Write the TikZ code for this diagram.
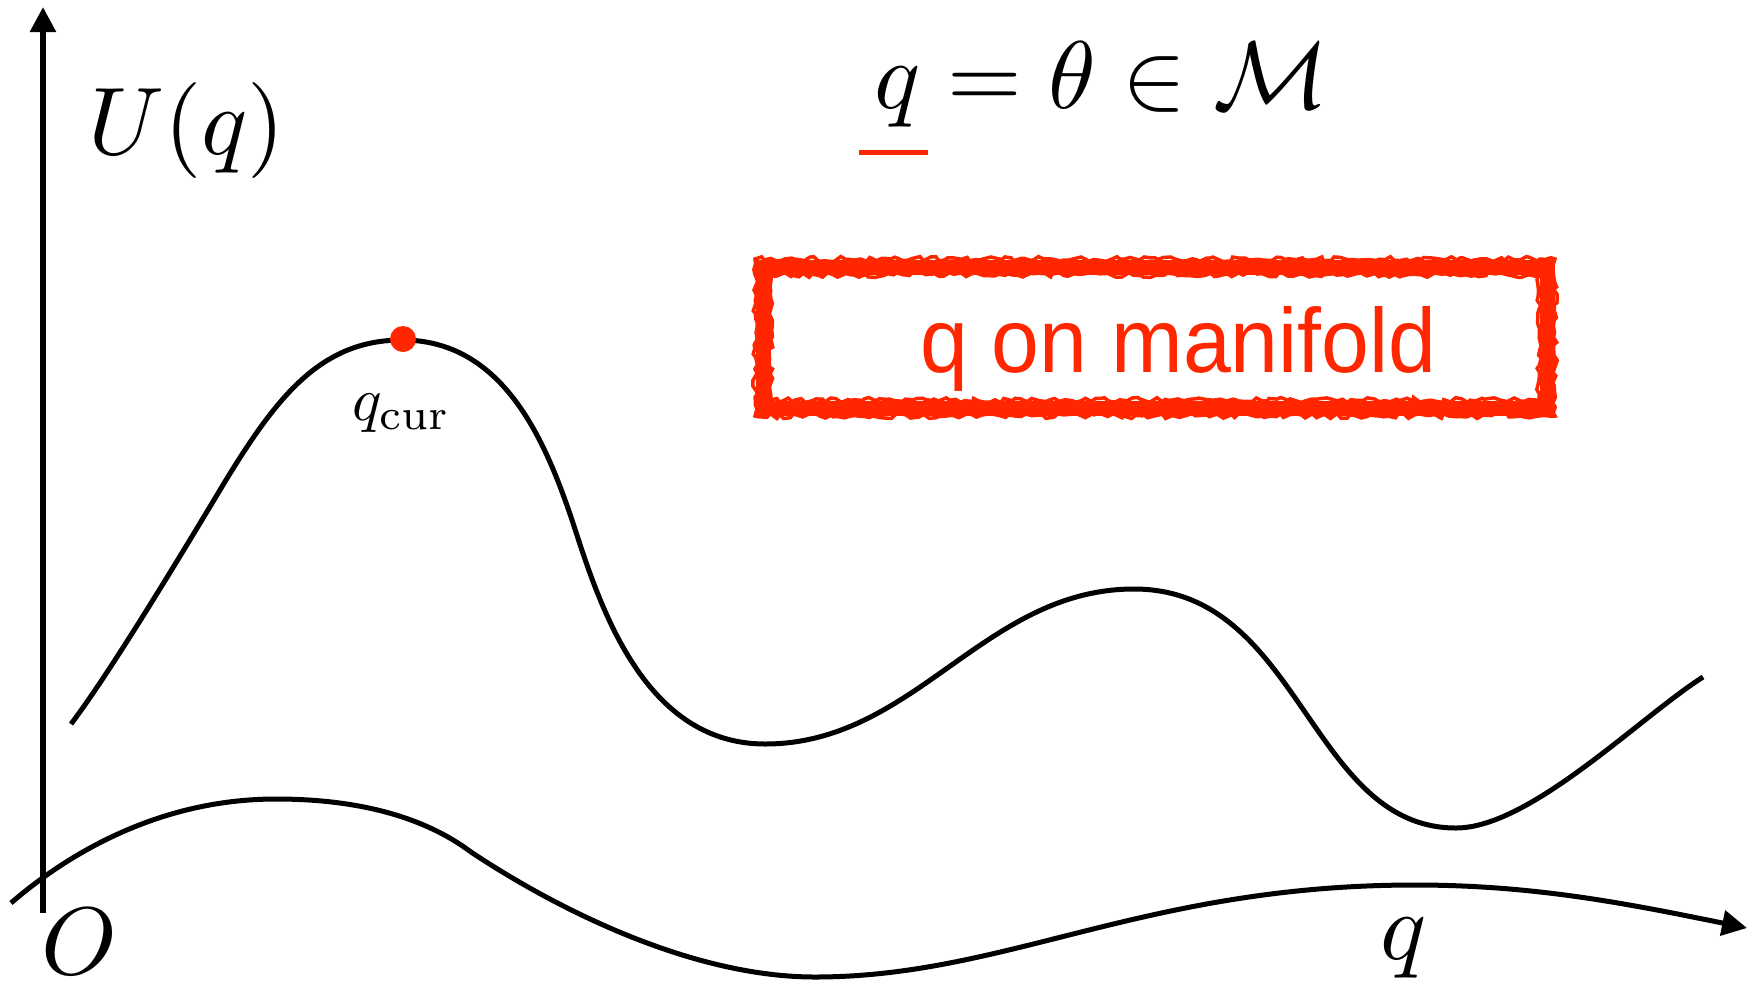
\RequirePackage{fix-cm}
\documentclass[tikz,border=0pt]{standalone}
\usepackage{fontspec}
\usepackage{graphicx}
\newfontfamily\helv{Liberation Sans}
\usetikzlibrary{arrows.meta,decorations.pathmorphing}
\definecolor{kred}{RGB}{255,38,0}
\begin{document}
\begin{tikzpicture}[x=1pt,y=-1pt,
  curve/.style={line width=5pt, line join=round},
  tip/.style={-{Triangle[length=25pt,width=25pt]}},
  axisline/.style={line width=5.5pt, tip},
  mathlbl/.style={inner sep=0pt, anchor=base west, font=\fontsize{10}{12}\selectfont},
  rough/.style={kred, line width=3.5pt, decorate, decoration={random steps, segment length=5pt, amplitude=2.5pt}},
]
\useasboundingbox (0,0) rectangle (1758,983);
\pgfmathsetseed{7}
% vertical axis
\coordinate (ybot) at (43,913);
\coordinate (ytop) at (43,7);
\draw[axisline] (ybot) -- (ytop);
% bottom curve (q axis)
\draw[curve] (11,903) .. controls (64,857) and (156,799) .. (276,799)
  .. controls (356,799) and (423,816) .. (471,852);
\draw[curve, tip] (471,852) .. controls (546,902) and (685,977) .. (815,977)
  .. controls (1007,977) and (1143,885) .. (1415,885)
  .. controls (1535,885) and (1629,904) .. (1747,928);
% potential curve
\draw[curve] (71,724) .. controls (112,670) and (190,540) .. (226,480)
  .. controls (278,395) and (322,340) .. (402,340)
  .. controls (503,340) and (545,440) .. (572,520)
  .. controls (597,596) and (640,744) .. (765,744)
  .. controls (915,744) and (984,589) .. (1134,589)
  .. controls (1301,589) and (1309,828) .. (1456,828)
  .. controls (1530,828) and (1640,717) .. (1703,677);
% current point
\node[circle, fill=kred, minimum size=26pt, inner sep=0pt] (qcur) at (403,339) {};
\node[mathlbl] (qcurlbl) at (352,420) {\scalebox{6.15}{$q_{\mathrm{cur}}$}};
% labels
\node[mathlbl] (U) at (88,154) {\scalebox{9.6}{$U(q)$}};
\node[mathlbl] (eq) at (874,108) {\scalebox{9.6}{$q=\theta\in\mathcal{M}$}};
\draw[kred, line width=5pt] (859,152) -- (928,152);
\node[mathlbl] (O) at (41,974) {\scalebox{9.6}{$O$}};
\node[mathlbl] (qaxis) at (1380,959) {\scalebox{9.6}{$q$}};
% red box
\node[draw=kred, line width=15pt, minimum width=784pt, minimum height=141pt, inner sep=0pt] (box) at (1155,337.5) {};
\draw[rough] (755,259) rectangle (1555,416);
\draw[rough] (771,275) rectangle (1539,400);
\node[anchor=base west, inner sep=0pt, text=kred, font=\helv\fontsize{86}{90}\selectfont] (lbl) at (920,372) {\scalebox{1}[1.06]{q on manifold}};
\end{tikzpicture}
\end{document}
